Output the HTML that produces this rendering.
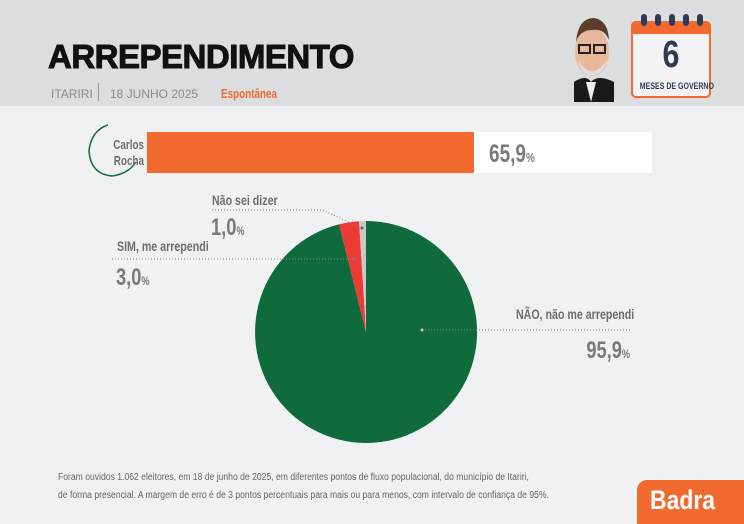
<!DOCTYPE html>
<html><head><meta charset="utf-8"><style>
body{margin:0;width:744px;height:524px;overflow:hidden;background:#f0f1f2;font-family:"Liberation Sans",sans-serif;position:relative}
.a{position:absolute;white-space:nowrap}
.n{transform:scaleX(0.76);transform-origin:0 0}
.r{transform:scaleX(0.76);transform-origin:100% 0}
.g{color:#7a7a7a;font-weight:bold}
</style></head><body>
<div class="a" style="left:0;top:0;width:744px;height:106px;background:#dcdddf"></div>
<div class="a" style="left:48px;top:38px;font-weight:900;font-size:33px;color:#111;letter-spacing:-0.5px;-webkit-text-stroke:1px #111">ARREPENDIMENTO</div>
<div class="a" style="left:51px;top:87px;font-size:12px;color:#8a8a8a">ITARIRI</div>
<div class="a" style="left:98px;top:83px;width:1px;height:18px;background:#999"></div>
<div class="a" style="left:110px;top:87px;font-size:12px;color:#8a8a8a">18 JUNHO 2025</div>
<div class="a n" style="left:221px;top:86px;font-size:13px;font-weight:bold;color:#f26a30">Espontânea</div>
<svg class="a" style="left:566px;top:12px" width="50" height="90" viewBox="0 0 50 90">
<path d="M8 90 L8 70 Q20 62 25 70 Q32 62 48 70 L48 90Z" fill="#1a1a1a"/>
<path d="M20 70 L25 90 L30 70Z" fill="#eee"/>
<ellipse cx="26" cy="40" rx="17" ry="24" fill="#e8b89a"/>
<path d="M10 30 Q12 6 28 6 Q42 8 43 28 Q38 16 26 18 Q14 18 10 30Z" fill="#5a3d2b"/>
<path d="M12 48 Q26 70 41 48 Q38 62 26 64 Q14 62 12 48Z" fill="#ddd"/>
<rect x="13" y="33" width="11" height="8" fill="none" stroke="#222" stroke-width="2"/><rect x="28" y="33" width="11" height="8" fill="none" stroke="#222" stroke-width="2"/>
</svg>
<div class="a" style="left:631px;top:21px;width:80px;height:77px;border:2px solid #f26a30;border-radius:5px;background:#f3f3f5;box-sizing:border-box"></div>
<div class="a" style="left:631px;top:21px;width:80px;height:13px;background:#f26a30;border-radius:5px 5px 0 0"></div>
<div class="a" style="left:641px;top:14px;width:6px;height:12px;background:#2d3b55;border-radius:3px;box-shadow:14px 0 #2d3b55,28px 0 #2d3b55,42px 0 #2d3b55,56px 0 #2d3b55"></div>
<div class="a" style="left:631px;top:34px;width:80px;text-align:center;font-size:38px;font-weight:bold;color:#2d3b55;transform:scaleX(0.8)">6</div>
<div class="a" style="left:631px;top:81px;width:80px;text-align:center;font-size:9px;font-weight:bold;color:#2d3b55;transform:scaleX(0.78)">MESES DE GOVERNO</div>
<div class="a" style="left:147px;top:132px;width:505px;height:41px;background:#fff"></div>
<div class="a" style="left:147px;top:132px;width:327px;height:41px;background:#f26a30"></div>
<div class="a n" style="left:489px;top:140px;font-size:25px"><span class="g">65,9</span><span class="g" style="font-size:13px">%</span></div>
<svg class="a" style="left:84px;top:122px" width="66" height="58"><path d="M24 3 Q8 8 5 28 Q6 52 28 54 Q44 52 52 40" fill="none" stroke="#1b6a3c" stroke-width="1.5"/></svg>
<div class="a r" style="left:94px;top:137px;font-size:13px;color:#6d6d6d;font-weight:bold;text-align:right;width:50px;line-height:16px">Carlos<br>Rocha</div>
<svg class="a" style="left:0;top:0" width="744" height="524">
<g transform="translate(366,332)">
<path d="M0 0 L0 -111 A111 111 0 1 1 -26.8 -107.7 Z" fill="#0f6a3c"/>
<path d="M0 0 L-26.8 -107.7 A111 111 0 0 1 -6.97 -110.8 Z" fill="#ee3a34"/>
<path d="M0 0 L-6.97 -110.8 A111 111 0 0 1 0 -111 Z" fill="#c8c8c8"/>
</g>
<g stroke="#888" stroke-dasharray="1,2" fill="none" stroke-width="1">
<polyline points="212,210 322,210 362,228"/>
<line x1="112" y1="259" x2="355" y2="259"/>
<line x1="422" y1="330" x2="630" y2="330"/>
</g>
<circle cx="362" cy="228" r="1.5" fill="#666"/><circle cx="355" cy="259" r="1.5" fill="#777"/><circle cx="422" cy="330" r="1.5" fill="#ccc"/>
</svg>
<div class="a n" style="left:212px;top:192px;font-size:14px;color:#6d6d6d;font-weight:bold">Não sei dizer</div>
<div class="a n" style="left:211px;top:214px;font-size:24px"><span class="g">1,0</span><span class="g" style="font-size:12px">%</span></div>
<div class="a n" style="left:117px;top:238px;font-size:14px;color:#6d6d6d;font-weight:bold">SIM, me arrependi</div>
<div class="a n" style="left:116px;top:264px;font-size:24px"><span class="g">3,0</span><span class="g" style="font-size:12px">%</span></div>
<div class="a r" style="left:480px;top:306px;font-size:14px;color:#6d6d6d;font-weight:bold;width:150px;text-align:right">NÃO, não me arrependi</div>
<div class="a r" style="left:530px;top:337px;font-size:24px;width:100px;text-align:right"><span class="g">95,9</span><span class="g" style="font-size:12px">%</span></div>
<div class="a" style="left:58px;top:469px;font-size:10px;color:#666;line-height:18px;transform:scaleX(0.86);transform-origin:0 0">Foram ouvidos 1.062 eleitores, em 18 de junho de 2025, em diferentes pontos de fluxo populacional, do município de Itariri,<br>de forma presencial. A margem de erro é de 3 pontos percentuais para mais ou para menos, com intervalo de confiança de 95%.</div>
<div class="a" style="left:637px;top:480px;width:107px;height:44px;background:#f26a30;border-radius:10px 0 0 0"></div>
<div class="a" style="left:650px;top:485px;font-size:27px;font-weight:bold;color:#fff;transform:scaleX(0.85);transform-origin:0 0">Badra</div>
</body></html>
